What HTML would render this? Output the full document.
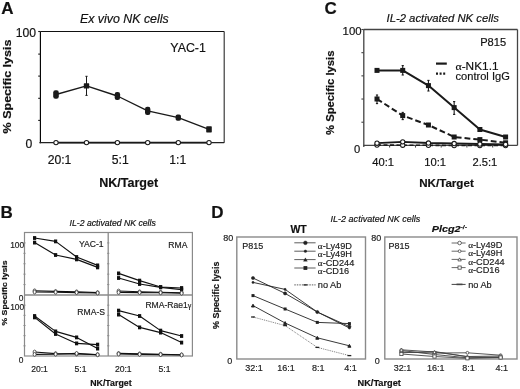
<!DOCTYPE html>
<html><head><meta charset="utf-8"><style>
html,body{margin:0;padding:0;background:#fff;width:520px;height:389px;overflow:hidden}
svg{display:block;filter:blur(0.3px)}
text{font-family:"Liberation Sans", sans-serif}
</style></head><body>
<svg width="520" height="389" viewBox="0 0 520 389">
<text x="1.2" y="14.1" font-size="17" font-weight="bold" font-style="normal" text-anchor="start" fill="#111" stroke="#111" stroke-width="0.18" >A</text>
<text x="124.3" y="22.5" font-size="12.4" font-weight="normal" font-style="italic" text-anchor="middle" fill="#111" stroke="#111" stroke-width="0.18" >Ex vivo NK cells</text>
<line x1="40.4" y1="31.5" x2="224.2" y2="31.5" stroke="#111" stroke-width="1.15" />
<line x1="224.2" y1="31.5" x2="224.2" y2="142.7" stroke="#333" stroke-width="1.15" />
<line x1="40.4" y1="31.5" x2="40.4" y2="143.3" stroke="#000" stroke-width="1.15" />
<line x1="39.4" y1="142.7" x2="224.2" y2="142.7" stroke="#222" stroke-width="1.2" />
<line x1="38.2" y1="54.1" x2="40.4" y2="54.1" stroke="#1a1a1a" stroke-width="1.1" />
<line x1="38.2" y1="76.1" x2="40.4" y2="76.1" stroke="#1a1a1a" stroke-width="1.1" />
<line x1="38.2" y1="98.3" x2="40.4" y2="98.3" stroke="#1a1a1a" stroke-width="1.1" />
<line x1="38.2" y1="120.4" x2="40.4" y2="120.4" stroke="#1a1a1a" stroke-width="1.1" />
<line x1="38.2" y1="31.5" x2="40.4" y2="31.5" stroke="#1a1a1a" stroke-width="1.1" />
<text x="36" y="36.5" font-size="12.2" font-weight="normal" font-style="normal" text-anchor="end" fill="#111" stroke="#111" stroke-width="0.18" >100</text>
<text x="32.3" y="147.6" font-size="12.2" font-weight="normal" font-style="normal" text-anchor="end" fill="#111" stroke="#111" stroke-width="0.18" >0</text>
<text x="59.5" y="163.6" font-size="12.2" font-weight="normal" font-style="normal" text-anchor="middle" fill="#111" stroke="#111" stroke-width="0.18" >20:1</text>
<text x="120.2" y="163.6" font-size="12.2" font-weight="normal" font-style="normal" text-anchor="middle" fill="#111" stroke="#111" stroke-width="0.18" >5:1</text>
<text x="177.8" y="163.6" font-size="12.2" font-weight="normal" font-style="normal" text-anchor="middle" fill="#111" stroke="#111" stroke-width="0.18" >1:1</text>
<text x="128.7" y="186.8" font-size="12.5" font-weight="bold" font-style="normal" text-anchor="middle" fill="#111" stroke="#111" stroke-width="0.18" >NK/Target</text>
<text x="0" y="0" font-size="10.8" font-weight="bold" text-anchor="middle" fill="#111" stroke="#111" stroke-width="0.18" textLength="93.8" lengthAdjust="spacingAndGlyphs" transform="translate(10.6,86.5) rotate(-90)">% Specific lysis</text>
<text x="170.3" y="51.6" font-size="12.4" font-weight="normal" font-style="normal" text-anchor="start" fill="#111" stroke="#111" stroke-width="0.18" >YAC-1</text>
<polyline points="56,94.5 86.5,85.94999999999999 117.4,96.0 147.7,110.9 178.3,117.65 209,129.35" fill="none" stroke="#1a1a1a" stroke-width="1.35" stroke-linejoin="round"/>
<line x1="86.5" y1="76.3" x2="86.5" y2="95.4" stroke="#1a1a1a" stroke-width="1.0" />
<line x1="85.4" y1="76.3" x2="87.6" y2="76.3" stroke="#1a1a1a" stroke-width="1.0" />
<line x1="85.4" y1="95.4" x2="87.6" y2="95.4" stroke="#1a1a1a" stroke-width="1.0" />
<rect x="53.2" y="90.2" width="5.6" height="8.599999999999994" rx="2.2" fill="#1a1a1a"/>
<rect x="83.8" y="83.3" width="5.4" height="5.299999999999997" rx="0.6" fill="#1a1a1a"/>
<rect x="114.7" y="92" width="5.4" height="8" rx="2.2" fill="#1a1a1a"/>
<rect x="145.0" y="106.8" width="5.4" height="8.200000000000003" rx="2.2" fill="#1a1a1a"/>
<rect x="175.60000000000002" y="114.5" width="5.4" height="6.299999999999997" rx="1.8" fill="#1a1a1a"/>
<rect x="206.2" y="126.3" width="5.6" height="6.1000000000000085" rx="0.6" fill="#1a1a1a"/>
<polyline points="56,142.6 86.5,142.6 117.4,142.6 147.7,142.6 178.3,142.6 209,142.6" fill="none" stroke="#1a1a1a" stroke-width="1.8" stroke-linejoin="round"/>
<circle cx="56" cy="142.6" r="2.2" fill="#fff" stroke="#1a1a1a" stroke-width="1.05"/>
<circle cx="86.5" cy="142.6" r="2.2" fill="#fff" stroke="#1a1a1a" stroke-width="1.05"/>
<circle cx="117.4" cy="142.6" r="2.2" fill="#fff" stroke="#1a1a1a" stroke-width="1.05"/>
<circle cx="147.7" cy="142.6" r="2.2" fill="#fff" stroke="#1a1a1a" stroke-width="1.05"/>
<circle cx="178.3" cy="142.6" r="2.2" fill="#fff" stroke="#1a1a1a" stroke-width="1.05"/>
<circle cx="209" cy="142.6" r="2.2" fill="#fff" stroke="#1a1a1a" stroke-width="1.05"/>
<text x="324.6" y="14.1" font-size="17" font-weight="bold" font-style="normal" text-anchor="start" fill="#111" stroke="#111" stroke-width="0.18" >C</text>
<text x="442.7" y="21.6" font-size="11.3" font-weight="normal" font-style="italic" text-anchor="middle" fill="#111" stroke="#111" stroke-width="0.18" >IL-2 activated NK cells</text>
<line x1="363.8" y1="29.5" x2="517.5" y2="29.5" stroke="#444" stroke-width="1.3" />
<line x1="517.5" y1="29.5" x2="517.5" y2="145.4" stroke="#444" stroke-width="1.3" />
<line x1="363.8" y1="29.5" x2="363.8" y2="146.9" stroke="#444" stroke-width="1.3" />
<line x1="363.3" y1="145.4" x2="517.5" y2="145.4" stroke="#444" stroke-width="1.3" />
<line x1="361.40000000000003" y1="52.68" x2="363.8" y2="52.68" stroke="#444" stroke-width="1.1" />
<line x1="361.40000000000003" y1="75.86" x2="363.8" y2="75.86" stroke="#444" stroke-width="1.1" />
<line x1="361.40000000000003" y1="99.04" x2="363.8" y2="99.04" stroke="#444" stroke-width="1.1" />
<line x1="361.40000000000003" y1="122.22" x2="363.8" y2="122.22" stroke="#444" stroke-width="1.1" />
<line x1="361.40000000000003" y1="29.5" x2="363.8" y2="29.5" stroke="#444" stroke-width="1.1" />
<line x1="389.6" y1="145.4" x2="389.6" y2="147.6" stroke="#444" stroke-width="1.1" />
<line x1="415.5" y1="145.4" x2="415.5" y2="147.6" stroke="#444" stroke-width="1.1" />
<line x1="441.2" y1="145.4" x2="441.2" y2="147.6" stroke="#444" stroke-width="1.1" />
<line x1="466.9" y1="145.4" x2="466.9" y2="147.6" stroke="#444" stroke-width="1.1" />
<line x1="492.7" y1="145.4" x2="492.7" y2="147.6" stroke="#444" stroke-width="1.1" />
<text x="361.6" y="35.1" font-size="11.4" font-weight="normal" font-style="normal" text-anchor="end" fill="#111" stroke="#111" stroke-width="0.18" >100</text>
<text x="360.2" y="153.2" font-size="11.2" font-weight="normal" font-style="normal" text-anchor="end" fill="#111" stroke="#111" stroke-width="0.18" >0</text>
<text x="383.2" y="165.5" font-size="11.2" font-weight="normal" font-style="normal" text-anchor="middle" fill="#111" stroke="#111" stroke-width="0.18" >40:1</text>
<text x="435.1" y="165.5" font-size="11.2" font-weight="normal" font-style="normal" text-anchor="middle" fill="#111" stroke="#111" stroke-width="0.18" >10:1</text>
<text x="484.9" y="165.5" font-size="11.2" font-weight="normal" font-style="normal" text-anchor="middle" fill="#111" stroke="#111" stroke-width="0.18" >2.5:1</text>
<text x="446.5" y="186.6" font-size="11.6" font-weight="bold" font-style="normal" text-anchor="middle" fill="#111" stroke="#111" stroke-width="0.18" >NK/Target</text>
<text x="0" y="0" font-size="10.8" font-weight="bold" text-anchor="middle" fill="#111" stroke="#111" stroke-width="0.18" textLength="84.4" lengthAdjust="spacingAndGlyphs" transform="translate(334.2,92.8) rotate(-90)">% Specific lysis</text>
<text x="480.2" y="45.6" font-size="11.1" font-weight="normal" font-style="normal" text-anchor="start" fill="#111" stroke="#111" stroke-width="0.18" >P815</text>
<line x1="436" y1="63.6" x2="446.8" y2="63.6" stroke="#1a1a1a" stroke-width="2.2" />
<text x="455.5" y="70" font-size="11.1" font-weight="normal" font-style="normal" text-anchor="start" fill="#111" stroke="#111" stroke-width="0.18" textLength="43" lengthAdjust="spacingAndGlyphs" ><tspan font-family="Liberation Serif">α</tspan>-NK1.1</text>
<line x1="436" y1="73.6" x2="446.8" y2="73.6" stroke="#1a1a1a" stroke-width="2.2" stroke-dasharray="2,1.6" />
<text x="455.5" y="79.6" font-size="11.1" font-weight="normal" font-style="normal" text-anchor="start" fill="#111" stroke="#111" stroke-width="0.18" >control IgG</text>
<polyline points="377.0,70.4 402.72,70.4 428.44,85.6 454.15999999999997,107.6 479.88,129.5 505.6,137" fill="none" stroke="#1a1a1a" stroke-width="2.0" stroke-linejoin="round"/>
<polyline points="377.0,99 402.72,115.6 428.44,125 454.15999999999997,137 479.88,139.6 505.6,142.8" fill="none" stroke="#1a1a1a" stroke-width="2.0" stroke-dasharray="5.8,3" stroke-linejoin="round"/>
<rect x="374.5" y="67.9" width="5" height="5" fill="#1a1a1a" stroke="#1a1a1a" stroke-width="0"/>
<line x1="402.72" y1="65.6" x2="402.72" y2="75" stroke="#1a1a1a" stroke-width="1.1" />
<line x1="401.62" y1="65.6" x2="403.82000000000005" y2="65.6" stroke="#1a1a1a" stroke-width="1.1" />
<line x1="401.62" y1="75" x2="403.82000000000005" y2="75" stroke="#1a1a1a" stroke-width="1.1" />
<rect x="400.22" y="67.9" width="5" height="5" fill="#1a1a1a" stroke="#1a1a1a" stroke-width="0"/>
<line x1="428.44" y1="80.4" x2="428.44" y2="91" stroke="#1a1a1a" stroke-width="1.1" />
<line x1="427.34" y1="80.4" x2="429.54" y2="80.4" stroke="#1a1a1a" stroke-width="1.1" />
<line x1="427.34" y1="91" x2="429.54" y2="91" stroke="#1a1a1a" stroke-width="1.1" />
<rect x="425.94" y="83.1" width="5" height="5" fill="#1a1a1a" stroke="#1a1a1a" stroke-width="0"/>
<line x1="454.15999999999997" y1="101.6" x2="454.15999999999997" y2="114.4" stroke="#1a1a1a" stroke-width="1.1" />
<line x1="453.05999999999995" y1="101.6" x2="455.26" y2="101.6" stroke="#1a1a1a" stroke-width="1.1" />
<line x1="453.05999999999995" y1="114.4" x2="455.26" y2="114.4" stroke="#1a1a1a" stroke-width="1.1" />
<rect x="451.65999999999997" y="105.1" width="5" height="5" fill="#1a1a1a" stroke="#1a1a1a" stroke-width="0"/>
<rect x="477.38" y="127.0" width="5" height="5" fill="#1a1a1a" stroke="#1a1a1a" stroke-width="0"/>
<rect x="503.1" y="134.5" width="5" height="5" fill="#1a1a1a" stroke="#1a1a1a" stroke-width="0"/>
<line x1="377.0" y1="95" x2="377.0" y2="103.6" stroke="#1a1a1a" stroke-width="1.1" />
<line x1="375.9" y1="95" x2="378.1" y2="95" stroke="#1a1a1a" stroke-width="1.1" />
<line x1="375.9" y1="103.6" x2="378.1" y2="103.6" stroke="#1a1a1a" stroke-width="1.1" />
<rect x="374.5" y="96.5" width="5" height="5" fill="#1a1a1a" stroke="#1a1a1a" stroke-width="0"/>
<line x1="402.72" y1="112.4" x2="402.72" y2="119.6" stroke="#1a1a1a" stroke-width="1.1" />
<line x1="401.62" y1="112.4" x2="403.82000000000005" y2="112.4" stroke="#1a1a1a" stroke-width="1.1" />
<line x1="401.62" y1="119.6" x2="403.82000000000005" y2="119.6" stroke="#1a1a1a" stroke-width="1.1" />
<rect x="400.22" y="113.1" width="5" height="5" fill="#1a1a1a" stroke="#1a1a1a" stroke-width="0"/>
<rect x="425.94" y="122.5" width="5" height="5" fill="#1a1a1a" stroke="#1a1a1a" stroke-width="0"/>
<rect x="451.65999999999997" y="134.5" width="5" height="5" fill="#1a1a1a" stroke="#1a1a1a" stroke-width="0"/>
<rect x="477.38" y="137.1" width="5" height="5" fill="#1a1a1a" stroke="#1a1a1a" stroke-width="0"/>
<rect x="503.1" y="140.3" width="5" height="5" fill="#1a1a1a" stroke="#1a1a1a" stroke-width="0"/>
<polyline points="377.0,145 402.72,145.2 428.44,145.3 454.15999999999997,145.5 479.88,145.5 505.6,145.5" fill="none" stroke="#1a1a1a" stroke-width="1.6" stroke-dasharray="4,2.5" stroke-linejoin="round"/>
<polyline points="377.0,143.2 402.72,141.8 428.44,143 454.15999999999997,143.5 479.88,144 505.6,144.3" fill="none" stroke="#1a1a1a" stroke-width="1.8" stroke-linejoin="round"/>
<circle cx="377.0" cy="145" r="2.15" fill="#fff" stroke="#1a1a1a" stroke-width="1.05"/>
<circle cx="402.72" cy="145.2" r="2.15" fill="#fff" stroke="#1a1a1a" stroke-width="1.05"/>
<circle cx="428.44" cy="145.3" r="2.15" fill="#fff" stroke="#1a1a1a" stroke-width="1.05"/>
<circle cx="454.15999999999997" cy="145.5" r="2.15" fill="#fff" stroke="#1a1a1a" stroke-width="1.05"/>
<circle cx="479.88" cy="145.5" r="2.15" fill="#fff" stroke="#1a1a1a" stroke-width="1.05"/>
<circle cx="505.6" cy="145.5" r="2.15" fill="#fff" stroke="#1a1a1a" stroke-width="1.05"/>
<circle cx="377.0" cy="143.2" r="2.15" fill="#fff" stroke="#1a1a1a" stroke-width="1.05"/>
<circle cx="402.72" cy="141.8" r="2.15" fill="#fff" stroke="#1a1a1a" stroke-width="1.05"/>
<circle cx="428.44" cy="143" r="2.15" fill="#fff" stroke="#1a1a1a" stroke-width="1.05"/>
<circle cx="454.15999999999997" cy="143.5" r="2.15" fill="#fff" stroke="#1a1a1a" stroke-width="1.05"/>
<circle cx="479.88" cy="144" r="2.15" fill="#fff" stroke="#1a1a1a" stroke-width="1.05"/>
<circle cx="505.6" cy="144.3" r="2.15" fill="#fff" stroke="#1a1a1a" stroke-width="1.05"/>
<text x="0.4" y="217.6" font-size="17" font-weight="bold" font-style="normal" text-anchor="start" fill="#111" stroke="#111" stroke-width="0.18" >B</text>
<text x="69.6" y="226.4" font-size="8.5" font-weight="normal" font-style="italic" text-anchor="start" fill="#111" stroke="#111" stroke-width="0.18" textLength="86.2" lengthAdjust="spacingAndGlyphs" >IL-2 activated NK cells</text>
<rect x="24.5" y="232.5" width="167.9" height="123.5" fill="none" stroke="#8a8a8a" stroke-width="1.2"/>
<line x1="108.2" y1="232.5" x2="108.2" y2="356" stroke="#8a8a8a" stroke-width="1.3" />
<line x1="24.5" y1="295" x2="192.4" y2="295" stroke="#8a8a8a" stroke-width="1.3" />
<line x1="23.3" y1="242.91666666666666" x2="25.7" y2="242.91666666666666" stroke="#8a8a8a" stroke-width="0.8" />
<line x1="107.0" y1="242.91666666666666" x2="109.4" y2="242.91666666666666" stroke="#8a8a8a" stroke-width="0.8" />
<line x1="23.3" y1="305.1666666666667" x2="25.7" y2="305.1666666666667" stroke="#8a8a8a" stroke-width="0.8" />
<line x1="107.0" y1="305.1666666666667" x2="109.4" y2="305.1666666666667" stroke="#8a8a8a" stroke-width="0.8" />
<line x1="23.3" y1="253.33333333333334" x2="25.7" y2="253.33333333333334" stroke="#8a8a8a" stroke-width="0.8" />
<line x1="107.0" y1="253.33333333333334" x2="109.4" y2="253.33333333333334" stroke="#8a8a8a" stroke-width="0.8" />
<line x1="23.3" y1="315.3333333333333" x2="25.7" y2="315.3333333333333" stroke="#8a8a8a" stroke-width="0.8" />
<line x1="107.0" y1="315.3333333333333" x2="109.4" y2="315.3333333333333" stroke="#8a8a8a" stroke-width="0.8" />
<line x1="23.3" y1="263.75" x2="25.7" y2="263.75" stroke="#8a8a8a" stroke-width="0.8" />
<line x1="107.0" y1="263.75" x2="109.4" y2="263.75" stroke="#8a8a8a" stroke-width="0.8" />
<line x1="23.3" y1="325.5" x2="25.7" y2="325.5" stroke="#8a8a8a" stroke-width="0.8" />
<line x1="107.0" y1="325.5" x2="109.4" y2="325.5" stroke="#8a8a8a" stroke-width="0.8" />
<line x1="23.3" y1="274.1666666666667" x2="25.7" y2="274.1666666666667" stroke="#8a8a8a" stroke-width="0.8" />
<line x1="107.0" y1="274.1666666666667" x2="109.4" y2="274.1666666666667" stroke="#8a8a8a" stroke-width="0.8" />
<line x1="23.3" y1="335.6666666666667" x2="25.7" y2="335.6666666666667" stroke="#8a8a8a" stroke-width="0.8" />
<line x1="107.0" y1="335.6666666666667" x2="109.4" y2="335.6666666666667" stroke="#8a8a8a" stroke-width="0.8" />
<line x1="23.3" y1="284.5833333333333" x2="25.7" y2="284.5833333333333" stroke="#8a8a8a" stroke-width="0.8" />
<line x1="107.0" y1="284.5833333333333" x2="109.4" y2="284.5833333333333" stroke="#8a8a8a" stroke-width="0.8" />
<line x1="23.3" y1="345.8333333333333" x2="25.7" y2="345.8333333333333" stroke="#8a8a8a" stroke-width="0.8" />
<line x1="107.0" y1="345.8333333333333" x2="109.4" y2="345.8333333333333" stroke="#8a8a8a" stroke-width="0.8" />
<text x="24.2" y="247.5" font-size="8.4" font-weight="normal" font-style="normal" text-anchor="end" fill="#222" stroke="#222" stroke-width="0.18" >100</text>
<text x="23.3" y="301" font-size="8.4" font-weight="normal" font-style="normal" text-anchor="end" fill="#222" stroke="#222" stroke-width="0.18" >0</text>
<text x="24.2" y="309.6" font-size="8.4" font-weight="normal" font-style="normal" text-anchor="end" fill="#222" stroke="#222" stroke-width="0.18" >100</text>
<text x="23.5" y="362.8" font-size="8.4" font-weight="normal" font-style="normal" text-anchor="end" fill="#222" stroke="#222" stroke-width="0.18" >0</text>
<text x="39.5" y="372" font-size="8.6" font-weight="normal" font-style="normal" text-anchor="middle" fill="#222" stroke="#222" stroke-width="0.18" >20:1</text>
<text x="123.3" y="372" font-size="8.6" font-weight="normal" font-style="normal" text-anchor="middle" fill="#222" stroke="#222" stroke-width="0.18" >20:1</text>
<text x="80.5" y="372" font-size="8.6" font-weight="normal" font-style="normal" text-anchor="middle" fill="#222" stroke="#222" stroke-width="0.18" >5:1</text>
<text x="164.5" y="372" font-size="8.6" font-weight="normal" font-style="normal" text-anchor="middle" fill="#222" stroke="#222" stroke-width="0.18" >5:1</text>
<text x="110.9" y="386.2" font-size="8.8" font-weight="bold" font-style="normal" text-anchor="middle" fill="#111" stroke="#111" stroke-width="0.18" >NK/Target</text>
<text x="0" y="0" font-size="7.9" font-weight="bold" text-anchor="middle" fill="#111" stroke="#111" stroke-width="0.18" textLength="65" lengthAdjust="spacingAndGlyphs" transform="translate(7.0,293) rotate(-90)">% Specific lysis</text>
<text x="103.6" y="247.4" font-size="8.6" font-weight="normal" font-style="normal" text-anchor="end" fill="#222" stroke="#222" stroke-width="0.18" >YAC-1</text>
<text x="187.4" y="248" font-size="8.6" font-weight="normal" font-style="normal" text-anchor="end" fill="#222" stroke="#222" stroke-width="0.18" >RMA</text>
<text x="105" y="314.6" font-size="8.6" font-weight="normal" font-style="normal" text-anchor="end" fill="#222" stroke="#222" stroke-width="0.18" >RMA-S</text>
<text x="145.4" y="308.2" font-size="8.5" font-weight="normal" font-style="normal" text-anchor="start" fill="#222" stroke="#222" stroke-width="0.18" textLength="46" lengthAdjust="spacingAndGlyphs" >RMA-Rae1<tspan font-family="Liberation Serif" font-size="8">γ</tspan></text>
<polyline points="34.6,238 55.6,241.4 76.6,257 97.6,265.4" fill="none" stroke="#111" stroke-width="1.15" stroke-linejoin="round"/>
<rect x="33.0" y="236.1" width="3.2" height="3.8" fill="#111"/>
<rect x="54.0" y="239.5" width="3.2" height="3.8" fill="#111"/>
<rect x="75.0" y="255.1" width="3.2" height="3.8" fill="#111"/>
<rect x="96.0" y="263.5" width="3.2" height="3.8" fill="#111"/>
<polyline points="34.6,242.6 55.6,255 76.6,259.4 97.6,267.4" fill="none" stroke="#111" stroke-width="1.15" stroke-linejoin="round"/>
<rect x="33.0" y="240.7" width="3.2" height="3.8" fill="#111"/>
<rect x="54.0" y="253.1" width="3.2" height="3.8" fill="#111"/>
<rect x="75.0" y="257.5" width="3.2" height="3.8" fill="#111"/>
<rect x="96.0" y="265.5" width="3.2" height="3.8" fill="#111"/>
<polyline points="34.6,290.8 55.6,291.4 76.6,291.8 97.6,292.6" fill="none" stroke="#111" stroke-width="1.1" stroke-linejoin="round"/>
<ellipse cx="34.6" cy="290.8" rx="1.5" ry="1.9" fill="#fff" stroke="#333" stroke-width="0.8"/>
<ellipse cx="55.6" cy="291.4" rx="1.5" ry="1.9" fill="#fff" stroke="#333" stroke-width="0.8"/>
<ellipse cx="76.6" cy="291.8" rx="1.5" ry="1.9" fill="#fff" stroke="#333" stroke-width="0.8"/>
<ellipse cx="97.6" cy="292.6" rx="1.5" ry="1.9" fill="#fff" stroke="#333" stroke-width="0.8"/>
<polyline points="34.6,292 55.6,292.2 76.6,292.6 97.6,293" fill="none" stroke="#111" stroke-width="1.1" stroke-linejoin="round"/>
<ellipse cx="34.6" cy="292" rx="1.5" ry="1.9" fill="#fff" stroke="#333" stroke-width="0.8"/>
<ellipse cx="55.6" cy="292.2" rx="1.5" ry="1.9" fill="#fff" stroke="#333" stroke-width="0.8"/>
<ellipse cx="76.6" cy="292.6" rx="1.5" ry="1.9" fill="#fff" stroke="#333" stroke-width="0.8"/>
<ellipse cx="97.6" cy="293" rx="1.5" ry="1.9" fill="#fff" stroke="#333" stroke-width="0.8"/>
<polyline points="118.6,273.4 139.6,280.6 160.6,287 181.6,288" fill="none" stroke="#111" stroke-width="1.15" stroke-linejoin="round"/>
<rect x="117.0" y="271.5" width="3.2" height="3.8" fill="#111"/>
<rect x="138.0" y="278.70000000000005" width="3.2" height="3.8" fill="#111"/>
<rect x="159.0" y="285.1" width="3.2" height="3.8" fill="#111"/>
<rect x="180.0" y="286.1" width="3.2" height="3.8" fill="#111"/>
<polyline points="118.6,278 139.6,284 160.6,287.4 181.6,289.6" fill="none" stroke="#111" stroke-width="1.15" stroke-linejoin="round"/>
<rect x="117.0" y="276.1" width="3.2" height="3.8" fill="#111"/>
<rect x="138.0" y="282.1" width="3.2" height="3.8" fill="#111"/>
<rect x="159.0" y="285.5" width="3.2" height="3.8" fill="#111"/>
<rect x="180.0" y="287.70000000000005" width="3.2" height="3.8" fill="#111"/>
<polyline points="118.6,291 139.6,291.8 160.6,292.2 181.6,292.8" fill="none" stroke="#111" stroke-width="1.1" stroke-linejoin="round"/>
<ellipse cx="118.6" cy="291" rx="1.5" ry="1.9" fill="#fff" stroke="#333" stroke-width="0.8"/>
<ellipse cx="139.6" cy="291.8" rx="1.5" ry="1.9" fill="#fff" stroke="#333" stroke-width="0.8"/>
<ellipse cx="160.6" cy="292.2" rx="1.5" ry="1.9" fill="#fff" stroke="#333" stroke-width="0.8"/>
<ellipse cx="181.6" cy="292.8" rx="1.5" ry="1.9" fill="#fff" stroke="#333" stroke-width="0.8"/>
<polyline points="118.6,292.4 139.6,292.6 160.6,292.8 181.6,293.2" fill="none" stroke="#111" stroke-width="1.1" stroke-linejoin="round"/>
<ellipse cx="118.6" cy="292.4" rx="1.5" ry="1.9" fill="#fff" stroke="#333" stroke-width="0.8"/>
<ellipse cx="139.6" cy="292.6" rx="1.5" ry="1.9" fill="#fff" stroke="#333" stroke-width="0.8"/>
<ellipse cx="160.6" cy="292.8" rx="1.5" ry="1.9" fill="#fff" stroke="#333" stroke-width="0.8"/>
<ellipse cx="181.6" cy="293.2" rx="1.5" ry="1.9" fill="#fff" stroke="#333" stroke-width="0.8"/>
<polyline points="34.6,316 55.6,331.4 76.6,337.4 97.6,348.6" fill="none" stroke="#111" stroke-width="1.15" stroke-linejoin="round"/>
<rect x="33.0" y="314.1" width="3.2" height="3.8" fill="#111"/>
<rect x="54.0" y="329.5" width="3.2" height="3.8" fill="#111"/>
<rect x="75.0" y="335.5" width="3.2" height="3.8" fill="#111"/>
<rect x="96.0" y="346.70000000000005" width="3.2" height="3.8" fill="#111"/>
<polyline points="34.6,317.4 55.6,334 76.6,343.4 97.6,344.6" fill="none" stroke="#111" stroke-width="1.15" stroke-linejoin="round"/>
<rect x="33.0" y="315.5" width="3.2" height="3.8" fill="#111"/>
<rect x="54.0" y="332.1" width="3.2" height="3.8" fill="#111"/>
<rect x="75.0" y="341.5" width="3.2" height="3.8" fill="#111"/>
<rect x="96.0" y="342.70000000000005" width="3.2" height="3.8" fill="#111"/>
<polyline points="34.6,352 55.6,353.6 76.6,354 97.6,354.6" fill="none" stroke="#111" stroke-width="1.1" stroke-linejoin="round"/>
<ellipse cx="34.6" cy="352" rx="1.5" ry="1.9" fill="#fff" stroke="#333" stroke-width="0.8"/>
<ellipse cx="55.6" cy="353.6" rx="1.5" ry="1.9" fill="#fff" stroke="#333" stroke-width="0.8"/>
<ellipse cx="76.6" cy="354" rx="1.5" ry="1.9" fill="#fff" stroke="#333" stroke-width="0.8"/>
<ellipse cx="97.6" cy="354.6" rx="1.5" ry="1.9" fill="#fff" stroke="#333" stroke-width="0.8"/>
<polyline points="34.6,354.4 55.6,354.2 76.6,353.4 97.6,354.8" fill="none" stroke="#111" stroke-width="1.1" stroke-linejoin="round"/>
<ellipse cx="34.6" cy="354.4" rx="1.5" ry="1.9" fill="#fff" stroke="#333" stroke-width="0.8"/>
<ellipse cx="55.6" cy="354.2" rx="1.5" ry="1.9" fill="#fff" stroke="#333" stroke-width="0.8"/>
<ellipse cx="76.6" cy="353.4" rx="1.5" ry="1.9" fill="#fff" stroke="#333" stroke-width="0.8"/>
<ellipse cx="97.6" cy="354.8" rx="1.5" ry="1.9" fill="#fff" stroke="#333" stroke-width="0.8"/>
<polyline points="118.6,310.6 139.6,316 160.6,330.6 181.6,336" fill="none" stroke="#111" stroke-width="1.15" stroke-linejoin="round"/>
<rect x="117.0" y="308.70000000000005" width="3.2" height="3.8" fill="#111"/>
<rect x="138.0" y="314.1" width="3.2" height="3.8" fill="#111"/>
<rect x="159.0" y="328.70000000000005" width="3.2" height="3.8" fill="#111"/>
<rect x="180.0" y="334.1" width="3.2" height="3.8" fill="#111"/>
<polyline points="118.6,314.6 139.6,327.4 160.6,332.6 181.6,342.6" fill="none" stroke="#111" stroke-width="1.15" stroke-linejoin="round"/>
<rect x="117.0" y="312.70000000000005" width="3.2" height="3.8" fill="#111"/>
<rect x="138.0" y="325.5" width="3.2" height="3.8" fill="#111"/>
<rect x="159.0" y="330.70000000000005" width="3.2" height="3.8" fill="#111"/>
<rect x="180.0" y="340.70000000000005" width="3.2" height="3.8" fill="#111"/>
<polyline points="118.6,353.4 139.6,353.8 160.6,354.2 181.6,354.8" fill="none" stroke="#111" stroke-width="1.1" stroke-linejoin="round"/>
<ellipse cx="118.6" cy="353.4" rx="1.5" ry="1.9" fill="#fff" stroke="#333" stroke-width="0.8"/>
<ellipse cx="139.6" cy="353.8" rx="1.5" ry="1.9" fill="#fff" stroke="#333" stroke-width="0.8"/>
<ellipse cx="160.6" cy="354.2" rx="1.5" ry="1.9" fill="#fff" stroke="#333" stroke-width="0.8"/>
<ellipse cx="181.6" cy="354.8" rx="1.5" ry="1.9" fill="#fff" stroke="#333" stroke-width="0.8"/>
<polyline points="118.6,354 139.6,354.4 160.6,354.6 181.6,355" fill="none" stroke="#111" stroke-width="1.1" stroke-linejoin="round"/>
<ellipse cx="118.6" cy="354" rx="1.5" ry="1.9" fill="#fff" stroke="#333" stroke-width="0.8"/>
<ellipse cx="139.6" cy="354.4" rx="1.5" ry="1.9" fill="#fff" stroke="#333" stroke-width="0.8"/>
<ellipse cx="160.6" cy="354.6" rx="1.5" ry="1.9" fill="#fff" stroke="#333" stroke-width="0.8"/>
<ellipse cx="181.6" cy="355" rx="1.5" ry="1.9" fill="#fff" stroke="#333" stroke-width="0.8"/>
<text x="211.3" y="217.6" font-size="17" font-weight="bold" font-style="normal" text-anchor="start" fill="#111" stroke="#111" stroke-width="0.18" >D</text>
<text x="330.6" y="222" font-size="8.9" font-weight="normal" font-style="italic" text-anchor="start" fill="#111" stroke="#111" stroke-width="0.18" textLength="89.6" lengthAdjust="spacingAndGlyphs" >IL-2 activated NK cells</text>
<text x="290.4" y="232.6" font-size="10.6" font-weight="bold" font-style="normal" text-anchor="start" fill="#111" stroke="#111" stroke-width="0.18" textLength="16.4" lengthAdjust="spacingAndGlyphs" >WT</text>
<text x="431.8" y="231.5" font-size="9.4" font-weight="bold" font-style="italic" text-anchor="start" fill="#111" stroke="#111" stroke-width="0.18" textLength="28.8" lengthAdjust="spacingAndGlyphs" >Plcg2</text>
<text x="460.4" y="229.2" font-size="6.2" font-weight="normal" font-style="normal" text-anchor="start" fill="#000" textLength="6.8" lengthAdjust="spacingAndGlyphs" stroke="#000" stroke-width="0.25">-/-</text>
<rect x="236.8" y="237" width="128.7" height="122" fill="none" stroke="#8a8a8a" stroke-width="1.4"/>
<rect x="384.8" y="237" width="132.2" height="122" fill="none" stroke="#8a8a8a" stroke-width="1.4"/>
<text x="233.2" y="241.4" font-size="9" font-weight="normal" font-style="normal" text-anchor="end" fill="#222" stroke="#222" stroke-width="0.18" >80</text>
<text x="381.2" y="241.4" font-size="9" font-weight="normal" font-style="normal" text-anchor="end" fill="#222" stroke="#222" stroke-width="0.18" >80</text>
<text x="232.2" y="364.4" font-size="9" font-weight="normal" font-style="normal" text-anchor="end" fill="#222" stroke="#222" stroke-width="0.18" >0</text>
<text x="379.8" y="364.4" font-size="9" font-weight="normal" font-style="normal" text-anchor="end" fill="#222" stroke="#222" stroke-width="0.18" >0</text>
<text x="242.2" y="248.6" font-size="9" font-weight="normal" font-style="normal" text-anchor="start" fill="#222" stroke="#222" stroke-width="0.18" >P815</text>
<text x="388.4" y="248.6" font-size="9" font-weight="normal" font-style="normal" text-anchor="start" fill="#222" stroke="#222" stroke-width="0.18" >P815</text>
<text x="254" y="371" font-size="9" font-weight="normal" font-style="normal" text-anchor="middle" fill="#222" stroke="#222" stroke-width="0.18" >32:1</text>
<text x="286.1" y="371" font-size="9" font-weight="normal" font-style="normal" text-anchor="middle" fill="#222" stroke="#222" stroke-width="0.18" >16:1</text>
<text x="318.3" y="371" font-size="9" font-weight="normal" font-style="normal" text-anchor="middle" fill="#222" stroke="#222" stroke-width="0.18" >8:1</text>
<text x="350.4" y="371" font-size="9" font-weight="normal" font-style="normal" text-anchor="middle" fill="#222" stroke="#222" stroke-width="0.18" >4:1</text>
<text x="402.59999999999997" y="371" font-size="9" font-weight="normal" font-style="normal" text-anchor="middle" fill="#222" stroke="#222" stroke-width="0.18" >32:1</text>
<text x="435.7" y="371" font-size="9" font-weight="normal" font-style="normal" text-anchor="middle" fill="#222" stroke="#222" stroke-width="0.18" >16:1</text>
<text x="468.59999999999997" y="371" font-size="9" font-weight="normal" font-style="normal" text-anchor="middle" fill="#222" stroke="#222" stroke-width="0.18" >8:1</text>
<text x="501.8" y="371" font-size="9" font-weight="normal" font-style="normal" text-anchor="middle" fill="#222" stroke="#222" stroke-width="0.18" >4:1</text>
<text x="379.2" y="385.9" font-size="9.2" font-weight="bold" font-style="normal" text-anchor="middle" fill="#111" stroke="#111" stroke-width="0.18" >NK/Target</text>
<text x="0" y="0" font-size="8.5" font-weight="bold" text-anchor="middle" fill="#111" stroke="#111" stroke-width="0.18" textLength="67.4" lengthAdjust="spacingAndGlyphs" transform="translate(218.7,295.3) rotate(-90)">% Specific lysis</text>
<polyline points="253,317 285.1,325.6 317.3,347.4 349.4,355.6" fill="none" stroke="#555" stroke-width="0.75" stroke-dasharray="1,0.9" stroke-linejoin="round"/>
<polyline points="253,305.6 285.1,323 317.3,337.8 349.4,345.8" fill="none" stroke="#222" stroke-width="0.9" stroke-linejoin="round"/>
<polyline points="253,295.6 285.1,309 317.3,322.4 349.4,323.6" fill="none" stroke="#222" stroke-width="0.9" stroke-linejoin="round"/>
<polyline points="253,282.4 285.1,289.4 317.3,312 349.4,328" fill="none" stroke="#222" stroke-width="0.9" stroke-linejoin="round"/>
<polyline points="253,278 285.1,293.4 317.3,312 349.4,326.6" fill="none" stroke="#222" stroke-width="0.9" stroke-linejoin="round"/>
<circle cx="253" cy="278" r="1.6" fill="#222" stroke="#222" stroke-width="0.5"/>
<circle cx="285.1" cy="293.4" r="1.6" fill="#222" stroke="#222" stroke-width="0.5"/>
<circle cx="317.3" cy="312" r="1.6" fill="#222" stroke="#222" stroke-width="0.5"/>
<circle cx="349.4" cy="326.6" r="1.6" fill="#222" stroke="#222" stroke-width="0.5"/>
<circle cx="253" cy="282.4" r="1.1" fill="#222" stroke="#222" stroke-width="0.5"/>
<circle cx="285.1" cy="289.4" r="1.1" fill="#222" stroke="#222" stroke-width="0.5"/>
<circle cx="317.3" cy="312" r="1.1" fill="#222" stroke="#222" stroke-width="0.5"/>
<circle cx="349.4" cy="328" r="1.1" fill="#222" stroke="#222" stroke-width="0.5"/>
<rect x="251.5" y="294.1" width="3.0" height="3.0" fill="#222" stroke="#222" stroke-width="0"/>
<rect x="283.6" y="307.5" width="3.0" height="3.0" fill="#222" stroke="#222" stroke-width="0"/>
<rect x="315.8" y="320.9" width="3.0" height="3.0" fill="#222" stroke="#222" stroke-width="0"/>
<rect x="347.9" y="322.1" width="3.0" height="3.0" fill="#222" stroke="#222" stroke-width="0"/>
<polygon points="253,304.20500000000004 251.45,306.995 254.55,306.995" fill="#222" stroke="#222" stroke-width="1"/>
<polygon points="285.1,321.605 283.55,324.395 286.65000000000003,324.395" fill="#222" stroke="#222" stroke-width="1"/>
<polygon points="317.3,336.40500000000003 315.75,339.195 318.85,339.195" fill="#222" stroke="#222" stroke-width="1"/>
<polygon points="349.4,344.40500000000003 347.84999999999997,347.195 350.95,347.195" fill="#222" stroke="#222" stroke-width="1"/>
<line x1="251.1" y1="317" x2="254.9" y2="317" stroke="#222" stroke-width="1.3" />
<line x1="283.20000000000005" y1="325.6" x2="287.0" y2="325.6" stroke="#222" stroke-width="1.3" />
<line x1="315.40000000000003" y1="347.4" x2="319.2" y2="347.4" stroke="#222" stroke-width="1.3" />
<line x1="347.5" y1="355.6" x2="351.29999999999995" y2="355.6" stroke="#222" stroke-width="1.3" />
<line x1="294.3" y1="242.8" x2="315.6" y2="242.8" stroke="#333" stroke-width="0.8" />
<circle cx="305.4" cy="242.8" r="1.9" fill="#222" stroke="#222" stroke-width="0.4"/>
<text x="317.8" y="249.0" font-size="9.2" font-weight="normal" font-style="normal" text-anchor="start" fill="#222" stroke="#222" stroke-width="0.18" ><tspan font-family="Liberation Serif">α</tspan>-Ly49D</text>
<line x1="294.3" y1="251.20000000000002" x2="315.6" y2="251.20000000000002" stroke="#333" stroke-width="0.8" />
<circle cx="305.4" cy="251.20000000000002" r="1.3" fill="#222" stroke="#222" stroke-width="0.4"/>
<text x="317.8" y="257.40000000000003" font-size="9.2" font-weight="normal" font-style="normal" text-anchor="start" fill="#222" stroke="#222" stroke-width="0.18" ><tspan font-family="Liberation Serif">α</tspan>-Ly49H</text>
<line x1="294.3" y1="259.6" x2="315.6" y2="259.6" stroke="#333" stroke-width="0.8" />
<polygon points="305.4,257.845 303.45,261.355 307.34999999999997,261.355" fill="#222" stroke="#222" stroke-width="0.3"/>
<text x="317.8" y="265.8" font-size="9.2" font-weight="normal" font-style="normal" text-anchor="start" fill="#222" stroke="#222" stroke-width="0.18" ><tspan font-family="Liberation Serif">α</tspan>-CD244</text>
<line x1="294.3" y1="268.0" x2="315.6" y2="268.0" stroke="#333" stroke-width="0.8" />
<rect x="303.5" y="266.1" width="3.8" height="3.8" fill="#222" stroke="#222" stroke-width="0"/>
<text x="317.8" y="274.2" font-size="9.2" font-weight="normal" font-style="normal" text-anchor="start" fill="#222" stroke="#222" stroke-width="0.18" ><tspan font-family="Liberation Serif">α</tspan>-CD16</text>
<line x1="294.3" y1="284.9" x2="315.6" y2="284.9" stroke="#333" stroke-width="0.8" stroke-dasharray="1.5,1" />
<line x1="303.5" y1="284.9" x2="307.3" y2="284.9" stroke="#222" stroke-width="1.3" />
<text x="317.8" y="287.6" font-size="9.2" font-weight="normal" font-style="normal" text-anchor="start" fill="#222" stroke="#222" stroke-width="0.18" >no Ab</text>
<polyline points="401.4,350.5 434.5,354.5 467.4,357.8 500.6,357.0" fill="none" stroke="#444" stroke-width="0.9" stroke-linejoin="round"/>
<polyline points="401.4,352.0 434.5,353.0 467.4,352.8 500.6,355.2" fill="none" stroke="#444" stroke-width="0.9" stroke-linejoin="round"/>
<polyline points="401.4,349.8 434.5,352.0 467.4,356.5 500.6,356.0" fill="none" stroke="#444" stroke-width="0.9" stroke-linejoin="round"/>
<polyline points="401.4,354.0 434.5,356.5 467.4,358.3 500.6,357.5" fill="none" stroke="#444" stroke-width="0.9" stroke-linejoin="round"/>
<polyline points="401.4,352.8 434.5,351.5 467.4,356.8 500.6,357.6" fill="none" stroke="#444" stroke-width="0.9" stroke-linejoin="round"/>
<line x1="399.59999999999997" y1="352.8" x2="403.2" y2="352.8" stroke="#444" stroke-width="1.2" />
<line x1="432.7" y1="351.5" x2="436.3" y2="351.5" stroke="#444" stroke-width="1.2" />
<line x1="465.59999999999997" y1="356.8" x2="469.2" y2="356.8" stroke="#444" stroke-width="1.2" />
<line x1="498.8" y1="357.6" x2="502.40000000000003" y2="357.6" stroke="#444" stroke-width="1.2" />
<circle cx="401.4" cy="350.5" r="1.8" fill="#fff" stroke="#444" stroke-width="0.8"/>
<circle cx="434.5" cy="354.5" r="1.8" fill="#fff" stroke="#444" stroke-width="0.8"/>
<circle cx="467.4" cy="357.8" r="1.8" fill="#fff" stroke="#444" stroke-width="0.8"/>
<circle cx="500.6" cy="357.0" r="1.8" fill="#fff" stroke="#444" stroke-width="0.8"/>
<circle cx="401.4" cy="352.0" r="1.4" fill="#fff" stroke="#444" stroke-width="0.8"/>
<circle cx="434.5" cy="353.0" r="1.4" fill="#fff" stroke="#444" stroke-width="0.8"/>
<circle cx="467.4" cy="352.8" r="1.4" fill="#fff" stroke="#444" stroke-width="0.8"/>
<circle cx="500.6" cy="355.2" r="1.4" fill="#fff" stroke="#444" stroke-width="0.8"/>
<polygon points="401.4,348.27000000000004 399.7,351.33 403.09999999999997,351.33" fill="#fff" stroke="#444" stroke-width="0.8"/>
<polygon points="434.5,350.47 432.8,353.53 436.2,353.53" fill="#fff" stroke="#444" stroke-width="0.8"/>
<polygon points="467.4,354.97 465.7,358.03 469.09999999999997,358.03" fill="#fff" stroke="#444" stroke-width="0.8"/>
<polygon points="500.6,354.47 498.90000000000003,357.53 502.3,357.53" fill="#fff" stroke="#444" stroke-width="0.8"/>
<rect x="399.79999999999995" y="352.4" width="3.2" height="3.2" fill="#fff" stroke="#444" stroke-width="0.8"/>
<rect x="432.9" y="354.9" width="3.2" height="3.2" fill="#fff" stroke="#444" stroke-width="0.8"/>
<rect x="465.79999999999995" y="356.7" width="3.2" height="3.2" fill="#fff" stroke="#444" stroke-width="0.8"/>
<rect x="499.0" y="355.9" width="3.2" height="3.2" fill="#fff" stroke="#444" stroke-width="0.8"/>
<line x1="451.6" y1="243.0" x2="465.6" y2="243.0" stroke="#444" stroke-width="0.8" />
<circle cx="459.6" cy="243.0" r="1.8" fill="#fff" stroke="#444" stroke-width="0.8"/>
<text x="468.2" y="248.2" font-size="9.2" font-weight="normal" font-style="normal" text-anchor="start" fill="#222" stroke="#222" stroke-width="0.18" ><tspan font-family="Liberation Serif">α</tspan>-Ly49D</text>
<line x1="451.6" y1="251.2" x2="465.6" y2="251.2" stroke="#444" stroke-width="0.8" />
<circle cx="459.6" cy="251.2" r="1.4" fill="#fff" stroke="#444" stroke-width="0.8"/>
<text x="468.2" y="256.4" font-size="9.2" font-weight="normal" font-style="normal" text-anchor="start" fill="#222" stroke="#222" stroke-width="0.18" ><tspan font-family="Liberation Serif">α</tspan>-Ly49H</text>
<line x1="451.6" y1="259.4" x2="465.6" y2="259.4" stroke="#444" stroke-width="0.8" />
<polygon points="459.6,257.87 457.90000000000003,260.92999999999995 461.3,260.92999999999995" fill="#fff" stroke="#444" stroke-width="0.8"/>
<text x="468.2" y="264.59999999999997" font-size="9.2" font-weight="normal" font-style="normal" text-anchor="start" fill="#222" stroke="#222" stroke-width="0.18" ><tspan font-family="Liberation Serif">α</tspan>-CD244</text>
<line x1="451.6" y1="267.6" x2="465.6" y2="267.6" stroke="#444" stroke-width="0.8" />
<rect x="458.0" y="266.0" width="3.2" height="3.2" fill="#fff" stroke="#444" stroke-width="0.8"/>
<text x="468.2" y="272.8" font-size="9.2" font-weight="normal" font-style="normal" text-anchor="start" fill="#222" stroke="#222" stroke-width="0.18" ><tspan font-family="Liberation Serif">α</tspan>-CD16</text>
<line x1="451.6" y1="284.4" x2="465.6" y2="284.4" stroke="#444" stroke-width="1.0" />
<line x1="456.5" y1="284.4" x2="462.5" y2="284.4" stroke="#444" stroke-width="1.6" />
<text x="468.2" y="287.6" font-size="9.2" font-weight="normal" font-style="normal" text-anchor="start" fill="#222" stroke="#222" stroke-width="0.18" >no Ab</text>
</svg>
</body></html>
